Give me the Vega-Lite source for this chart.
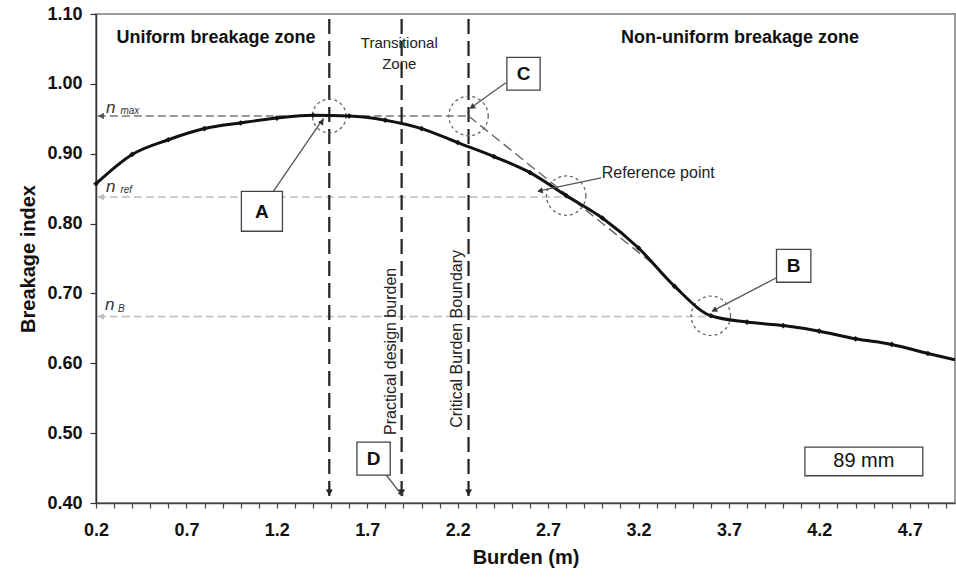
{
  "$schema": "https://vega.github.io/schema/vega-lite/v6.json",
  "width": 859,
  "height": 489,
  "autosize": {"type": "none"},
  "padding": {"left": 96, "top": 14, "right": 1, "bottom": 75},
  "background": "white",
  "config": {"font": "Liberation Sans", "view": {"stroke": "#9a9a9a", "strokeWidth": 2}},
  "datasets": {
    "curve": [
      {"x": 0.2, "y": 0.857}, {"x": 0.4, "y": 0.899}, {"x": 0.6, "y": 0.920}, {"x": 0.8, "y": 0.936},
      {"x": 1.0, "y": 0.944}, {"x": 1.2, "y": 0.951}, {"x": 1.4, "y": 0.955}, {"x": 1.6, "y": 0.954},
      {"x": 1.8, "y": 0.948}, {"x": 2.0, "y": 0.936}, {"x": 2.2, "y": 0.916}, {"x": 2.4, "y": 0.896},
      {"x": 2.6, "y": 0.873}, {"x": 2.8, "y": 0.840}, {"x": 3.0, "y": 0.808}, {"x": 3.2, "y": 0.765},
      {"x": 3.4, "y": 0.710}, {"x": 3.6, "y": 0.668}, {"x": 3.8, "y": 0.659}, {"x": 4.0, "y": 0.654},
      {"x": 4.2, "y": 0.646}, {"x": 4.4, "y": 0.635}, {"x": 4.6, "y": 0.627}, {"x": 4.8, "y": 0.614},
      {"x": 4.95, "y": 0.605}
    ],
    "hmax": [{"x": 0.21, "x2": 2.26, "y": 0.954}],
    "hlight": [{"x": 0.21, "x2": 2.8, "y": 0.838}, {"x": 0.21, "x2": 3.6, "y": 0.667}],
    "hmaxHead": [{"x": 0.228, "y": 0.954}],
    "hlightHead": [{"x": 0.228, "y": 0.838}, {"x": 0.228, "y": 0.667}],
    "vlines": [{"x": 1.49, "y": 0.41, "y2": 1.1}, {"x": 1.89, "y": 0.41, "y2": 1.1}, {"x": 2.26, "y": 0.41, "y2": 1.1}],
    "vheads": [{"x": 1.49, "y": 0.415}, {"x": 1.89, "y": 0.415}, {"x": 2.26, "y": 0.415}],
    "tangent": [{"x": 2.26, "y": 0.954, "x2": 3.3, "y2": 0.738}],
    "circleA": [{"x": 1.49, "y": 0.954}],
    "circles": [{"x": 2.26, "y": 0.954}, {"x": 2.8, "y": 0.840}, {"x": 3.6, "y": 0.668}],
    "arrows": [
      {"x": 1.177, "y": 0.8446, "x2": 1.458, "y2": 0.951},
      {"x": 2.466, "y": 1.0015, "x2": 2.273, "y2": 0.9658},
      {"x": 2.993, "y": 0.8655, "x2": 2.644, "y2": 0.8463},
      {"x": 3.963, "y": 0.7224, "x2": 3.608, "y2": 0.6746},
      {"x": 1.803, "y": 0.4408, "x2": 1.895, "y2": 0.4097}
    ],
    "headA": [{"x": 1.45, "y": 0.946}],
    "headC": [{"x": 2.279, "y": 0.9665}],
    "headR": [{"x": 2.655, "y": 0.8468}],
    "headB": [{"x": 3.618, "y": 0.676}],
    "headD": [{"x": 1.891, "y": 0.413}],
    "boxes": [
      {"x": 1.004, "x2": 1.231, "y": 0.789, "y2": 0.846},
      {"x": 2.472, "x2": 2.656, "y": 0.991, "y2": 1.038},
      {"x": 3.963, "x2": 4.153, "y": 0.716, "y2": 0.763},
      {"x": 1.643, "x2": 1.827, "y": 0.440, "y2": 0.487},
      {"x": 4.12, "x2": 4.772, "y": 0.439, "y2": 0.480}
    ],
    "boxLetters": [
      {"x": 1.117, "y": 0.817, "label": "A"},
      {"x": 2.564, "y": 1.014, "label": "C"},
      {"x": 4.058, "y": 0.739, "label": "B"},
      {"x": 1.735, "y": 0.463, "label": "D"}
    ],
    "sizeLabel": [{"x": 4.446, "y": 0.4597, "label": "89 mm"}],
    "zones": [
      {"x": 0.863, "y": 1.066, "label": "Uniform breakage zone"},
      {"x": 3.761, "y": 1.066, "label": "Non-uniform breakage zone"}
    ],
    "trans": [
      {"x": 1.877, "y": 1.059, "label": "Transitional"},
      {"x": 1.877, "y": 1.029, "label": "Zone"}
    ],
    "refLabel": [{"x": 2.997, "y": 0.873, "label": "Reference point"}],
    "vertLabels": [
      {"x": 1.831, "y": 0.617, "label": "Practical design burden"},
      {"x": 2.197, "y": 0.635, "label": "Critical Burden Boundary"}
    ],
    "nMain": [
      {"x": 0.255, "y": 0.966, "label": "n"},
      {"x": 0.255, "y": 0.853, "label": "n"},
      {"x": 0.25, "y": 0.684, "label": "n"}
    ],
    "nSub": [
      {"x": 0.335, "y": 0.961, "label": "max"},
      {"x": 0.335, "y": 0.848, "label": "ref"},
      {"x": 0.322, "y": 0.677, "label": "B"}
    ]
  },
  "encoding": {
    "x": {
      "field": "x", "type": "quantitative",
      "scale": {"domain": [0.2, 4.95], "nice": false, "zero": false},
      "axis": {
        "title": "Burden (m)",
        "values": [0.2,0.3,0.4,0.5,0.6,0.7,0.8,0.9,1.0,1.1,1.2,1.3,1.4,1.5,1.6,1.7,1.8,1.9,2.0,2.1,2.2,2.3,2.4,2.5,2.6,2.7,2.8,2.9,3.0,3.1,3.2,3.3,3.4,3.5,3.6,3.7,3.8,3.9,4.0,4.1,4.2,4.3,4.4,4.5,4.6,4.7,4.8,4.9],
        "labelExpr": "abs((datum.value - 0.2) * 2 - round((datum.value - 0.2) * 2)) < 0.01 ? format(datum.value, '.1f') : ''",
        "labelFlush": false, "labelOverlap": false, "grid": false,
        "domainColor": "#444", "domainWidth": 1.5,
        "ticks": true, "tickColor": "#444", "tickWidth": 1.2, "tickSize": 5,
        "labelFontSize": 18, "labelFontWeight": "bold", "labelColor": "#111", "labelPadding": 13,
        "titleFontSize": 20, "titleFontWeight": "bold", "titleColor": "#111", "titlePadding": 8
      }
    },
    "y": {
      "field": "y", "type": "quantitative",
      "scale": {"domain": [0.4, 1.1], "nice": false, "zero": false},
      "axis": {
        "title": "Breakage index",
        "values": [0.4,0.5,0.6,0.7,0.8,0.9,1.0,1.1],
        "format": ".2f", "labelFlush": false, "labelOverlap": false, "grid": false,
        "domainColor": "#333", "domainWidth": 1.5,
        "ticks": true, "tickColor": "#333", "tickWidth": 1.2, "tickSize": 6,
        "labelFontSize": 18, "labelFontWeight": "bold", "labelColor": "#111", "labelPadding": 8,
        "titleFontSize": 20, "titleFontWeight": "bold", "titleColor": "#111", "titlePadding": 8
      }
    }
  },
  "layer": [
    {"data": {"name": "hmax"}, "mark": {"type": "rule", "stroke": "#777", "strokeWidth": 1.6, "strokeDash": [8, 4]}, "encoding": {"x2": {"field": "x2"}}},
    {"data": {"name": "hlight"}, "mark": {"type": "rule", "stroke": "#bdbdbd", "strokeWidth": 1.6, "strokeDash": [8, 4]}, "encoding": {"x2": {"field": "x2"}}},
    {"data": {"name": "hmaxHead"}, "mark": {"type": "point", "shape": "triangle-left", "filled": true, "color": "#555", "size": 45, "opacity": 1}},
    {"data": {"name": "hlightHead"}, "mark": {"type": "point", "shape": "triangle-left", "filled": true, "color": "#bdbdbd", "size": 45, "opacity": 1}},
    {"data": {"name": "vlines"}, "mark": {"type": "rule", "stroke": "#222", "strokeWidth": 2.2, "strokeDash": [15, 7]}, "encoding": {"y2": {"field": "y2"}}},
    {"data": {"name": "vheads"}, "mark": {"type": "point", "shape": "triangle-down", "filled": true, "color": "#222", "size": 50, "opacity": 1}},
    {"data": {"name": "tangent"}, "mark": {"type": "rule", "stroke": "#666", "strokeWidth": 1.4, "strokeDash": [10, 5]}, "encoding": {"x2": {"field": "x2"}, "y2": {"field": "y2"}}},
    {"data": {"name": "circleA"}, "mark": {"type": "point", "shape": "circle", "filled": false, "stroke": "#666", "strokeWidth": 1.3, "strokeDash": [3, 3], "size": 1134, "opacity": 1}},
    {"data": {"name": "circles"}, "mark": {"type": "point", "shape": "circle", "filled": false, "stroke": "#666", "strokeWidth": 1.3, "strokeDash": [3, 3], "size": 1550, "opacity": 1}},
    {"data": {"name": "curve"}, "mark": {"type": "line", "color": "#111", "strokeWidth": 3, "interpolate": "monotone", "clip": true}},
    {"data": {"name": "curve"}, "transform": [{"filter": "datum.x <= 4.85"}], "mark": {"type": "point", "shape": "diamond", "filled": true, "color": "#111", "size": 32, "opacity": 1}},
    {"data": {"name": "arrows"}, "mark": {"type": "rule", "stroke": "#555", "strokeWidth": 1.3}, "encoding": {"x2": {"field": "x2"}, "y2": {"field": "y2"}}},
    {"data": {"name": "headA"}, "mark": {"type": "point", "shape": "triangle-up", "filled": true, "color": "#333", "size": 40, "angle": 35, "opacity": 1}},
    {"data": {"name": "headC"}, "mark": {"type": "point", "shape": "triangle-up", "filled": true, "color": "#333", "size": 40, "angle": 234, "opacity": 1}},
    {"data": {"name": "headR"}, "mark": {"type": "point", "shape": "triangle-up", "filled": true, "color": "#333", "size": 40, "angle": 258, "opacity": 1}},
    {"data": {"name": "headB"}, "mark": {"type": "point", "shape": "triangle-up", "filled": true, "color": "#333", "size": 40, "angle": 243, "opacity": 1}},
    {"data": {"name": "headD"}, "mark": {"type": "point", "shape": "triangle-up", "filled": true, "color": "#333", "size": 40, "angle": 143, "opacity": 1}},
    {"data": {"name": "boxes"}, "mark": {"type": "rect", "fill": "white", "stroke": "#444", "strokeWidth": 1.3}, "encoding": {"x2": {"field": "x2"}, "y2": {"field": "y2"}}},
    {"data": {"name": "boxLetters"}, "mark": {"type": "text", "fontSize": 19, "fontWeight": "bold", "color": "#111", "align": "center", "baseline": "middle"}, "encoding": {"text": {"field": "label"}}},
    {"data": {"name": "sizeLabel"}, "mark": {"type": "text", "fontSize": 20, "color": "#111", "align": "center", "baseline": "middle"}, "encoding": {"text": {"field": "label"}}},
    {"data": {"name": "zones"}, "mark": {"type": "text", "fontSize": 18, "fontWeight": "bold", "color": "#111", "align": "center", "baseline": "middle"}, "encoding": {"text": {"field": "label"}}},
    {"data": {"name": "trans"}, "mark": {"type": "text", "fontSize": 15, "color": "#222", "align": "center", "baseline": "middle"}, "encoding": {"text": {"field": "label"}}},
    {"data": {"name": "refLabel"}, "mark": {"type": "text", "fontSize": 16, "color": "#222", "align": "left", "baseline": "middle"}, "encoding": {"text": {"field": "label"}}},
    {"data": {"name": "vertLabels"}, "mark": {"type": "text", "fontSize": 16, "color": "#222", "align": "center", "baseline": "middle", "angle": 270}, "encoding": {"text": {"field": "label"}}},
    {"data": {"name": "nMain"}, "mark": {"type": "text", "fontSize": 17, "fontStyle": "italic", "color": "#333", "align": "left", "baseline": "middle"}, "encoding": {"text": {"field": "label"}}},
    {"data": {"name": "nSub"}, "mark": {"type": "text", "fontSize": 10, "fontStyle": "italic", "color": "#333", "align": "left", "baseline": "middle"}, "encoding": {"text": {"field": "label"}}}
  ]
}
